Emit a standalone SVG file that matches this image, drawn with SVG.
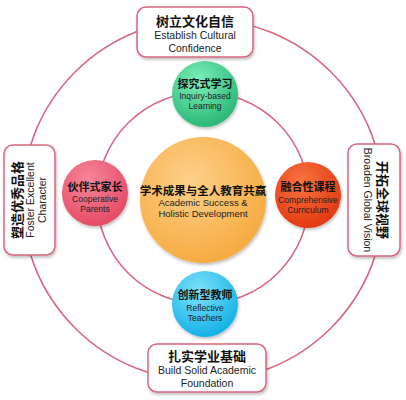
<svg xmlns="http://www.w3.org/2000/svg" width="406" height="400" viewBox="0 0 406 400">
<defs>
<radialGradient id="gOrange" cx="0.4" cy="0.35" r="0.7"><stop offset="0" stop-color="#fdd08a"/><stop offset="1" stop-color="#f6a93d"/></radialGradient>
<radialGradient id="gGreen" cx="0.4" cy="0.3" r="0.75"><stop offset="0" stop-color="#7ef0bb"/><stop offset="1" stop-color="#25b472"/></radialGradient>
<radialGradient id="gBlue" cx="0.4" cy="0.3" r="0.75"><stop offset="0" stop-color="#7fe2fb"/><stop offset="1" stop-color="#0eaee5"/></radialGradient>
<radialGradient id="gPink" cx="0.4" cy="0.3" r="0.75"><stop offset="0" stop-color="#f7869a"/><stop offset="1" stop-color="#e34862"/></radialGradient>
<radialGradient id="gRed" cx="0.4" cy="0.3" r="0.75"><stop offset="0" stop-color="#f8733f"/><stop offset="1" stop-color="#e1350f"/></radialGradient>
<filter id="sh" x="-20%" y="-20%" width="140%" height="140%"><feDropShadow dx="1" dy="2" stdDeviation="1.5" flood-color="#000" flood-opacity="0.25"/></filter>
</defs>
<style>
.ring{fill:none;stroke:#d8677f;stroke-width:1.6}
.box{fill:#fff;stroke:#d8677f;stroke-width:1.5}
.cn{font-family:"Noto Sans CJK SC",sans-serif;font-weight:bold;fill:#111;text-anchor:middle}
.en{font-family:"Liberation Sans",Arial,sans-serif;fill:#222;text-anchor:middle}
</style>
<rect width="406" height="400" fill="#fff"/>
<g id="connectors">
<circle class="ring" cx="203" cy="200" r="181"/>
<circle class="ring" cx="203" cy="198" r="106"/>
</g>
<g id="center">
<circle cx="203" cy="200" r="63" fill="url(#gOrange)" filter="url(#sh)"/>
<text class="cn" x="203" y="195" font-size="11.5">学术成果与全人教育共赢</text>
<text class="en" x="203" y="206" font-size="9.5">Academic Success &amp;</text>
<text class="en" x="203" y="217" font-size="9.5">Holistic Development</text>
</g>
<g id="inquiry">
<circle cx="205" cy="94" r="33" fill="url(#gGreen)" filter="url(#sh)"/>
<text class="cn" x="205" y="88" font-size="11">探究式学习</text>
<text class="en" x="205" y="99" font-size="8.5">Inquiry-based</text>
<text class="en" x="205" y="109" font-size="8.5">Learning</text>
</g>
<g id="teachers">
<circle cx="205" cy="304" r="33" fill="url(#gBlue)" filter="url(#sh)"/>
<text class="cn" x="205" y="299" font-size="11">创新型教师</text>
<text class="en" x="205" y="311" font-size="8.5">Reflective</text>
<text class="en" x="205" y="321" font-size="8.5">Teachers</text>
</g>
<g id="parents">
<circle cx="95" cy="193" r="33" fill="url(#gPink)" filter="url(#sh)"/>
<text class="cn" x="95" y="191" font-size="11">伙伴式家长</text>
<text class="en" x="95" y="202" font-size="8.5">Cooperative</text>
<text class="en" x="95" y="212" font-size="8.5">Parents</text>
</g>
<g id="curriculum">
<circle cx="308" cy="195" r="33" fill="url(#gRed)" filter="url(#sh)"/>
<text class="cn" x="308" y="191" font-size="11">融合性课程</text>
<text class="en" x="308" y="203" font-size="8.5">Comprehensive</text>
<text class="en" x="308" y="213" font-size="8.5">Curriculum</text>
</g>
<g id="top">
<rect class="box" x="137" y="7" width="116" height="50" rx="9" filter="url(#sh)"/>
<text class="cn" x="195" y="26" font-size="13">树立文化自信</text>
<text class="en" x="195" y="39" font-size="10.5">Establish Cultural</text>
<text class="en" x="195" y="52" font-size="10.5">Confidence</text>
</g>
<g id="bottom">
<rect class="box" x="148" y="344" width="118" height="48" rx="9" filter="url(#sh)"/>
<text class="cn" x="207" y="361" font-size="13">扎实学业基础</text>
<text class="en" x="207" y="374" font-size="10.5">Build Solid Academic</text>
<text class="en" x="207" y="387" font-size="10.5">Foundation</text>
</g>
<g id="left">
<rect class="box" x="4" y="145" width="51" height="110" rx="9" filter="url(#sh)"/>
<g transform="translate(30,200) rotate(-90)">
<text class="cn" x="0" y="-8" font-size="13">塑造优秀品格</text>
<text class="en" x="0" y="4" font-size="10.5">Foster Excellent</text>
<text class="en" x="0" y="16" font-size="10.5">Character</text>
</g>
</g>
<g id="right">
<rect class="box" x="348" y="144" width="52" height="112" rx="9" filter="url(#sh)"/>
<g transform="translate(374,200) rotate(90)">
<text class="cn" x="0" y="-4" font-size="13">开拓全球视野</text>
<text class="en" x="0" y="10" font-size="10.5">Broaden Global Vision</text>
</g>
</g>
</svg>
